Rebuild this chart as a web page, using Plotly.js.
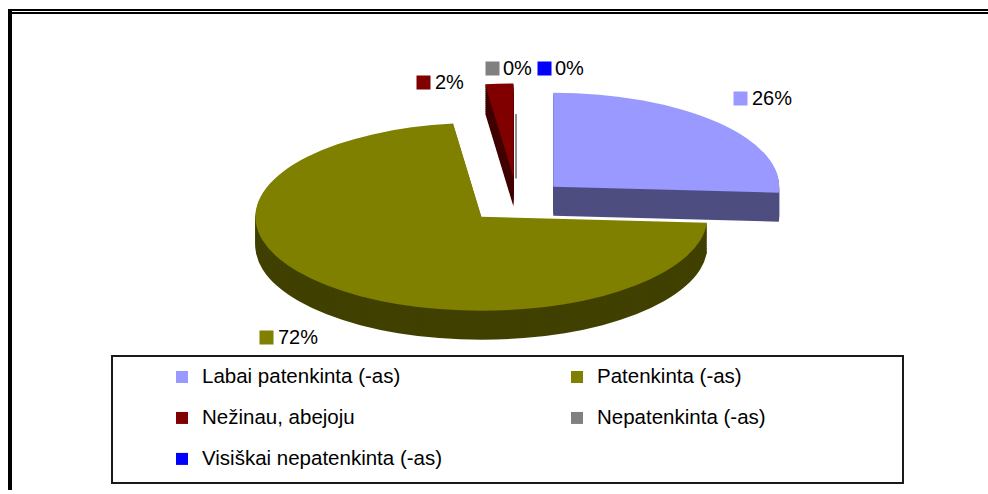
<!DOCTYPE html>
<html><head><meta charset="utf-8">
<script src="https://cdn.plot.ly/plotly-3.0.1.min.js"></script>
<style>html,body{margin:0;padding:0;background:#fff;overflow:hidden}</style>
</head><body><div id="chart" style="width:988px;height:494px"></div>
<script>
// ---- data ----
const categories = ['Labai patenkinta (-as)', 'Patenkinta (-as)', 'Nežinau, abejoju', 'Nepatenkinta (-as)', 'Visiškai nepatenkinta (-as)'];
const percentValues = [26, 72, 2, 0, 0];
const topColors = ['#9999FF', '#808000', '#800000', '#808080', '#0000FF'];
const sideColors = ['#4D4D80', '#404000', '#400000', '#404040', '#000080'];
const explode = [0.22, 0.23, 0.25, 0, 0];

// ---- layout helpers ----
const W = 988, H = 494;
const px = x => x / W, py = y => 1 - y / H;
const FONT = 'Liberation Sans, Arial, sans-serif';
const DEPTH = 29, STEP = 2;
const RX = 226, RY = 94, CX = 517, CY = 201;

const legendLabels = categories.map(c => '<span style="font-size:20.5px">' + c + '</span><br>');

const traces = [];
const offsets = [];
function pieTrace(colors, show) {
  return {
    type: 'pie', labels: legendLabels, values: percentValues, sort: false,
    direction: 'clockwise', rotation: 0, pull: explode,
    marker: {colors: colors, line: {width: 0}},
    textinfo: 'none', hoverinfo: 'none', showlegend: show
  };
}
for (let d = DEPTH; d >= 1; d -= STEP) { traces.push(pieTrace(sideColors, false)); offsets.push(d); }
traces.push(pieTrace(topColors, true)); offsets.push(0);

// label positions: square left edge, square top edge, text left edge (pixels)
const labelPos = [[733, 92, 751], [259, 333, 277], [416, 76, 434], [485, 62, 502], [537, 62, 554]];
const annotations = [];
percentValues.forEach((v, i) => {
  const [sx, sy, tx] = labelPos[i];
  annotations.push({
    xref: 'paper', yref: 'paper', x: px(sx), y: py(sy), xanchor: 'left', yanchor: 'top',
    showarrow: false, text: ' ', width: 13, height: 13, borderpad: 0,
    bgcolor: topColors[i], font: {size: 4}
  });
  annotations.push({
    xref: 'paper', yref: 'paper', x: px(tx), y: py(sy + 6.5), xanchor: 'left', yanchor: 'middle',
    showarrow: false, text: v + '%', borderpad: 0,
    font: {family: FONT, size: 20, color: '#000'}
  });
});

function rectPx(x0, y0, x1, y1, fill) {
  return {type: 'rect', xref: 'paper', yref: 'paper', x0: px(x0), x1: px(x1), y0: py(y0), y1: py(y1),
          fillcolor: fill, line: {width: 0}, layer: 'above'};
}
const shapes = [
  rectPx(8, 9, 12, 494, '#000'),
  rectPx(8, 9, 988, 11, '#000'),
  rectPx(12, 12, 988, 14, '#000'),
  {type: 'rect', xref: 'paper', yref: 'paper', x0: px(112), x1: px(903), y0: py(359), y1: py(487),
   fillcolor: 'rgba(0,0,0,0)', line: {color: '#1a1a1a', width: 2}, layer: 'above'},
  {type: 'line', xref: 'paper', yref: 'paper', x0: px(516), x1: px(516), y0: py(115), y1: py(180),
   line: {color: '#222', width: 1}, layer: 'above'}
];

const layout = {
  width: W, height: H, margin: {l: 0, r: 0, t: 0, b: 0},
  paper_bgcolor: '#ffffff', showlegend: true,
  legend: {orientation: 'h', x: px(162), xanchor: 'left', y: py(364), yanchor: 'top',
           font: {family: FONT, size: 14.6, color: '#000'}, entrywidth: 350, entrywidthmode: 'pixels',
           valign: 'top', bgcolor: 'rgba(0,0,0,0)', borderwidth: 0, traceorder: 'normal'},
  shapes: shapes, annotations: annotations
};

Plotly.newPlot('chart', traces, layout, {staticPlot: true, displayModeBar: false}).then(gd => {
  gd.querySelectorAll('.pielayer g.trace').forEach(g => {
    const cd = g.__data__; if (!cd || !cd[0]) return;
    const cd0 = cd[0];
    const d = offsets[cd0.trace.index] || 0;
    const sx = RX / cd0.r, sy = RY / cd0.r;
    g.setAttribute('transform', 'translate(' + CX + ',' + (CY + d) + ') scale(' + sx + ',' + sy + ') translate(' + (-cd0.cx) + ',' + (-cd0.cy) + ')');
  });
});
</script>
</body></html>
